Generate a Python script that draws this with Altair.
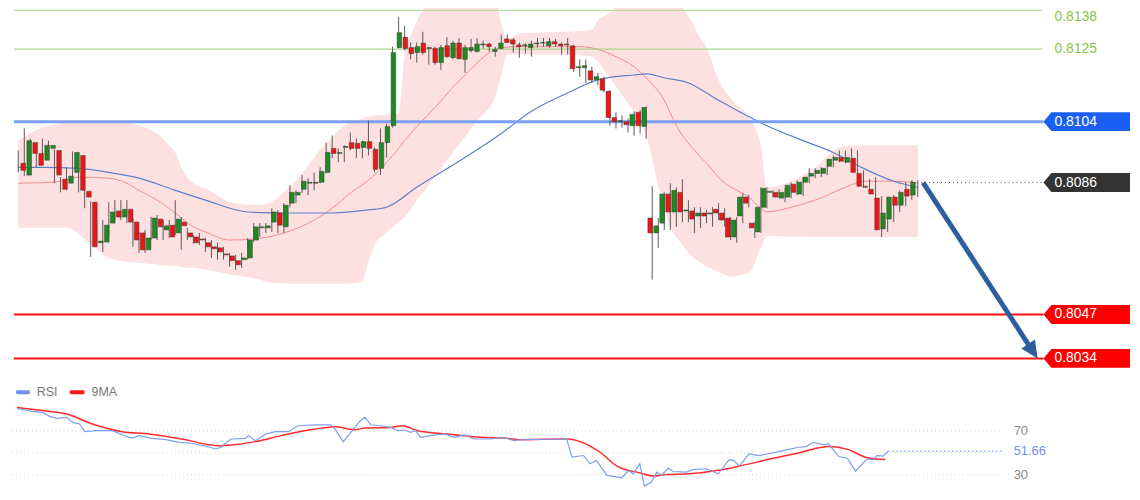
import altair as alt
import pandas as pd

# ---------------- candles (150 bars) ----------------
open_p = [0.80917, 0.80882, 0.80978, 0.80946, 0.80926, 0.80961, 0.80955, 0.80870, 0.80858, 0.80890,
          0.80940, 0.80834, 0.80802, 0.80682, 0.80684, 0.80740, 0.80776, 0.80758, 0.80781, 0.80743,
          0.80711, 0.80661, 0.80696, 0.80752, 0.80720, 0.80734, 0.80711, 0.80743, 0.80711, 0.80699,
          0.80693, 0.80682, 0.80670, 0.80667, 0.80649, 0.80643, 0.80629, 0.80632, 0.80637, 0.80690,
          0.80726, 0.80726, 0.80743, 0.80770, 0.80729, 0.80799, 0.80823, 0.80840, 0.80858, 0.80858,
          0.80861, 0.80890, 0.80961, 0.80946, 0.80964, 0.80978, 0.80976, 0.80964, 0.80981, 0.80958,
          0.80902, 0.80978, 0.81028, 0.81255, 0.81290, 0.81255, 0.81240, 0.81270, 0.81255, 0.81252,
          0.81211, 0.81261, 0.81225, 0.81270, 0.81220, 0.81246, 0.81243, 0.81264, 0.81267, 0.81243,
          0.81252, 0.81284, 0.81281, 0.81264, 0.81261, 0.81255, 0.81267, 0.81270, 0.81261, 0.81275,
          0.81267, 0.81267, 0.81261, 0.81196, 0.81196, 0.81187, 0.81161, 0.81164, 0.81128, 0.81052,
          0.81040, 0.81040, 0.81028, 0.81067, 0.81026, 0.80755, 0.80711, 0.80740, 0.80826, 0.80773,
          0.80831, 0.80776, 0.80776, 0.80761, 0.80770, 0.80767, 0.80781, 0.80770, 0.80755, 0.80699,
          0.80761, 0.80817, 0.80740, 0.80714, 0.80787, 0.80831, 0.80831, 0.80814, 0.80817, 0.80855,
          0.80826, 0.80861, 0.80879, 0.80887, 0.80887, 0.80908, 0.80926, 0.80934, 0.80920, 0.80932,
          0.80887, 0.80849, 0.80840, 0.80814, 0.80723, 0.80752, 0.80817, 0.80793, 0.80840, 0.80823]
high_p = [0.80955, 0.81020, 0.80990, 0.80955, 0.80990, 0.80984, 0.80958, 0.80876, 0.80905, 0.80952,
          0.80949, 0.80846, 0.80805, 0.80749, 0.80749, 0.80802, 0.80808, 0.80808, 0.80808, 0.80755,
          0.80714, 0.80720, 0.80758, 0.80764, 0.80749, 0.80749, 0.80808, 0.80758, 0.80726, 0.80705,
          0.80711, 0.80696, 0.80690, 0.80682, 0.80670, 0.80652, 0.80646, 0.80652, 0.80696, 0.80740,
          0.80740, 0.80740, 0.80784, 0.80779, 0.80799, 0.80852, 0.80837, 0.80882, 0.80873, 0.80890,
          0.80905, 0.80978, 0.80999, 0.80961, 0.80970, 0.81008, 0.80990, 0.80984, 0.81043, 0.80964,
          0.81020, 0.81034, 0.81258, 0.81358, 0.81328, 0.81272, 0.81272, 0.81308, 0.81258, 0.81258,
          0.81264, 0.81290, 0.81278, 0.81287, 0.81264, 0.81284, 0.81287, 0.81278, 0.81272, 0.81258,
          0.81299, 0.81299, 0.81287, 0.81272, 0.81270, 0.81278, 0.81287, 0.81287, 0.81287, 0.81284,
          0.81272, 0.81287, 0.81264, 0.81220, 0.81220, 0.81199, 0.81181, 0.81170, 0.81131, 0.81067,
          0.81058, 0.81049, 0.81070, 0.81073, 0.81084, 0.80849, 0.80755, 0.80831, 0.80858, 0.80846,
          0.80870, 0.80808, 0.80787, 0.80787, 0.80779, 0.80787, 0.80799, 0.80784, 0.80758, 0.80758,
          0.80829, 0.80823, 0.80743, 0.80846, 0.80846, 0.80837, 0.80840, 0.80843, 0.80861, 0.80867,
          0.80876, 0.80902, 0.80902, 0.80905, 0.80911, 0.80940, 0.80955, 0.80955, 0.80961, 0.80955,
          0.80896, 0.80870, 0.80876, 0.80820, 0.80773, 0.80823, 0.80837, 0.80861, 0.80867, 0.80867]
low_p = [0.80890, 0.80879, 0.80934, 0.80905, 0.80920, 0.80946, 0.80858, 0.80831, 0.80837, 0.80861,
         0.80831, 0.80784, 0.80640, 0.80679, 0.80655, 0.80699, 0.80749, 0.80749, 0.80740, 0.80670,
         0.80652, 0.80652, 0.80690, 0.80690, 0.80690, 0.80696, 0.80705, 0.80661, 0.80690, 0.80679,
         0.80676, 0.80655, 0.80637, 0.80632, 0.80632, 0.80611, 0.80602, 0.80608, 0.80632, 0.80684,
         0.80699, 0.80711, 0.80714, 0.80711, 0.80711, 0.80787, 0.80799, 0.80829, 0.80823, 0.80837,
         0.80858, 0.80887, 0.80932, 0.80920, 0.80920, 0.80955, 0.80932, 0.80932, 0.80940, 0.80890,
         0.80882, 0.80934, 0.81023, 0.81252, 0.81246, 0.81220, 0.81211, 0.81234, 0.81205, 0.81205,
         0.81190, 0.81225, 0.81220, 0.81220, 0.81181, 0.81240, 0.81240, 0.81252, 0.81243, 0.81228,
         0.81249, 0.81270, 0.81240, 0.81225, 0.81237, 0.81228, 0.81255, 0.81258, 0.81255, 0.81258,
         0.81234, 0.81234, 0.81184, 0.81170, 0.81152, 0.81152, 0.81146, 0.81125, 0.81028, 0.81020,
         0.81023, 0.81008, 0.80999, 0.81005, 0.80990, 0.80573, 0.80667, 0.80720, 0.80720, 0.80729,
         0.80743, 0.80743, 0.80711, 0.80726, 0.80740, 0.80729, 0.80749, 0.80729, 0.80690, 0.80682,
         0.80740, 0.80787, 0.80696, 0.80711, 0.80784, 0.80817, 0.80814, 0.80802, 0.80814, 0.80823,
         0.80820, 0.80858, 0.80873, 0.80876, 0.80882, 0.80905, 0.80920, 0.80917, 0.80905, 0.80887,
         0.80846, 0.80829, 0.80808, 0.80699, 0.80714, 0.80743, 0.80773, 0.80790, 0.80808, 0.80817]
close_p = [0.80896, 0.80984, 0.80946, 0.80911, 0.80970, 0.80970, 0.80882, 0.80840, 0.80879, 0.80949,
           0.80837, 0.80817, 0.80670, 0.80687, 0.80734, 0.80773, 0.80758, 0.80781, 0.80743, 0.80690,
           0.80661, 0.80696, 0.80755, 0.80729, 0.80732, 0.80699, 0.80752, 0.80732, 0.80699, 0.80682,
           0.80690, 0.80670, 0.80664, 0.80655, 0.80646, 0.80629, 0.80617, 0.80637, 0.80690, 0.80729,
           0.80729, 0.80732, 0.80773, 0.80734, 0.80793, 0.80831, 0.80831, 0.80864, 0.80861, 0.80861,
           0.80893, 0.80949, 0.80946, 0.80949, 0.80967, 0.80961, 0.80961, 0.80981, 0.80961, 0.80899,
           0.80978, 0.81026, 0.81240, 0.81305, 0.81252, 0.81237, 0.81258, 0.81240, 0.81252, 0.81211,
           0.81255, 0.81228, 0.81270, 0.81222, 0.81255, 0.81255, 0.81267, 0.81267, 0.81258, 0.81249,
           0.81270, 0.81272, 0.81267, 0.81258, 0.81264, 0.81267, 0.81270, 0.81272, 0.81275, 0.81267,
           0.81261, 0.81264, 0.81193, 0.81199, 0.81202, 0.81161, 0.81170, 0.81131, 0.81052, 0.81040,
           0.81043, 0.81031, 0.81061, 0.81028, 0.81081, 0.80711, 0.80732, 0.80826, 0.80773, 0.80837,
           0.80773, 0.80779, 0.80752, 0.80770, 0.80761, 0.80770, 0.80770, 0.80749, 0.80699, 0.80749,
           0.80817, 0.80799, 0.80726, 0.80787, 0.80843, 0.80834, 0.80817, 0.80831, 0.80852, 0.80831,
           0.80861, 0.80876, 0.80887, 0.80896, 0.80902, 0.80929, 0.80934, 0.80923, 0.80934, 0.80890,
           0.80849, 0.80846, 0.80826, 0.80720, 0.80770, 0.80817, 0.80793, 0.80831, 0.80820, 0.80861]

# ---------------- Bollinger band (sampled bars) ----------------
band_bar = [0, 4, 8, 12, 15, 18, 20, 23, 25, 26, 27, 28, 29, 31, 33, 35, 36, 40, 41, 46,
            51, 52, 53, 54, 57, 58, 59, 61, 63, 64, 65, 66, 67, 69, 71, 72, 76, 79, 80, 81,
            83, 90, 95, 96, 97, 98, 100, 103, 104, 106, 108, 110, 111, 113, 114, 116, 118, 121, 123, 124,
            132, 136, 139, 149]
band_upper = [0.80984, 0.81023, 0.81037, 0.81043, 0.81043, 0.81040, 0.81028, 0.81005, 0.80970, 0.80949,
              0.80905, 0.80876, 0.80858, 0.80843, 0.80823, 0.80802, 0.80799, 0.80793, 0.80796, 0.80867,
              0.80976, 0.80993, 0.81014, 0.81028, 0.81049, 0.81055, 0.81058, 0.81061, 0.81064, 0.81234,
              0.81293, 0.81343, 0.81381, 0.81425, 0.81455, 0.81470, 0.81470, 0.81425, 0.81337, 0.81284,
              0.81302, 0.81308, 0.81314, 0.81346, 0.81361, 0.81372, 0.81411, 0.81455, 0.81470, 0.81461,
              0.81440, 0.81390, 0.81361, 0.81287, 0.81255, 0.81161, 0.81108, 0.81052, 0.80970, 0.80846,
              0.80905, 0.80964, 0.80970, 0.80970]
band_lower = [0.80726, 0.80726, 0.80726, 0.80676, 0.80637, 0.80626, 0.80623, 0.80617, 0.80614, 0.80614,
              0.80611, 0.80608, 0.80608, 0.80602, 0.80596, 0.80588, 0.80585, 0.80573, 0.80567, 0.80561,
              0.80561, 0.80561, 0.80561, 0.80561, 0.80567, 0.80626, 0.80676, 0.80711, 0.80743, 0.80758,
              0.80779, 0.80808, 0.80829, 0.80876, 0.80926, 0.80949, 0.81043, 0.81111, 0.81175, 0.81234,
              0.81234, 0.81234, 0.81228, 0.81214, 0.81190, 0.81167, 0.81117, 0.81037, 0.80999, 0.80852,
              0.80729, 0.80676, 0.80652, 0.80623, 0.80611, 0.80596, 0.80582, 0.80593, 0.80667, 0.80702,
              0.80699, 0.80699, 0.80699, 0.80699]

# ---------------- moving averages ----------------
ma_red_bar = [0, 6, 10, 15, 18, 20, 23, 26, 29, 31, 35, 39, 44, 49, 52, 55, 58, 63, 64, 69,
              74, 80, 83, 93, 96, 99, 102, 104, 107, 109, 112, 114, 117, 119, 121, 123, 124, 128, 132, 137,
              140, 145, 149]
ma_red = [0.80858, 0.80861, 0.80876, 0.80873, 0.80858, 0.80837, 0.80808, 0.80770, 0.80729, 0.80714,
          0.80690, 0.80693, 0.80711, 0.80749, 0.80784, 0.80829, 0.80867, 0.80961, 0.80984, 0.81081,
          0.81175, 0.81255, 0.81258, 0.81258, 0.81249, 0.81228, 0.81199, 0.81167, 0.81102, 0.81028,
          0.80955, 0.80917, 0.80858, 0.80837, 0.80817, 0.80784, 0.80773, 0.80787, 0.80808, 0.80846,
          0.80864, 0.80864, 0.80858]
ma_blue_bar = [0, 4, 10, 15, 20, 26, 31, 38, 44, 52, 58, 61, 66, 74, 80, 85, 91, 96, 102, 104,
               107, 111, 116, 119, 124, 130, 135, 140, 145, 149]
ma_blue = [0.80905, 0.80905, 0.80902, 0.80890, 0.80873, 0.80837, 0.80808, 0.80773, 0.80770, 0.80770,
           0.80779, 0.80787, 0.80846, 0.80934, 0.81005, 0.81070, 0.81123, 0.81161, 0.81175, 0.81178,
           0.81167, 0.81152, 0.81102, 0.81073, 0.81028, 0.80984, 0.80949, 0.80902, 0.80864, 0.80846]

# ---------------- levels ----------------
green_levels = [0.8138, 0.8125]
resistance_level = [0.8104]
current_price = [0.8086]
support_levels = [0.8047, 0.8034]
box_levels = [0.8104, 0.8086, 0.8047, 0.8034]
box_colors = ["#1a5ff2", "#333333", "#ff0000", "#ff0000"]

# ---------------- RSI pane ----------------
rsi_pos = [0, 2.7, 4.4, 5.6, 6.8, 8.5, 9.5, 10.7, 11.6, 13.6, 16.3, 18.7, 19.7, 20.9, 23.1, 25.5, 27.7, 29.9,
           32.3, 34.0, 34.9, 36.2, 36.7, 39.1, 39.6, 40.8, 42.5, 44.2, 46.4, 48.1, 51.0, 53.7, 54.4, 55.8,
           57.1, 58.7, 59.5, 60.5, 62.2, 63.9, 65.1, 66.3, 67.3, 68.2, 69.0, 70.7, 73.1, 74.8, 76.5, 78.2,
           81.0, 83.3, 85.0, 86.0, 94.0, 94.9, 96.9, 98.0, 99.1, 100.9, 103.4, 104.6, 105.4, 106.5, 107.3,
           108.5, 109.4, 110.2, 111.4, 112.2, 114.5, 115.6, 117.9, 119.9, 121.8, 122.6, 123.5, 125.2, 126.9,
           129.3, 131.0, 133.7, 134.9, 136.2, 137.8, 138.8, 140.5, 142.0, 143.4, 145.4, 146.3, 147.1, 148.1, 149.0]
rsi_val = [90.6, 87.9, 87.0, 83.4, 81.5, 82.5, 77.9, 76.4, 69.4, 70.3, 70.3, 65.2, 63.6, 65.8, 63.3, 62.1, 59.7, 58.8,
           56.1, 53.6, 55.2, 61.2, 62.7, 63.3, 65.8, 61.2, 67.3, 69.4, 69.4, 74.8, 75.7, 75.7, 71.8, 60.3,
           68.8, 79.4, 82.5, 75.7, 74.8, 73.3, 70.3, 70.9, 68.8, 70.3, 64.2, 65.8, 67.3, 64.2, 66.4, 62.7,
           62.7, 64.2, 61.2, 62.0, 62.7, 46.1, 47.6, 40.0, 43.0, 29.4, 27.3, 33.9, 30.9, 40.0, 19.7,
           23.4, 32.4, 29.4, 36.1, 33.0, 32.4, 34.8, 35.5, 30.9, 43.9, 43.0, 37.9, 49.1, 47.6,
           50.0, 52.1, 55.2, 55.8, 59.7, 57.6, 58.2, 46.7, 45.1, 33.3, 44.5, 43.6, 47.6, 47.0, 51.66]
ma9_pos = [0, 5.6, 8.5, 12.9, 18.0, 22.6, 28.2, 34.5, 36.7, 40.8, 45.2, 51.0, 54.4, 57.8, 59.5, 63.9, 66.0,
           68.5, 73.6, 79.3, 83.3, 86.0, 94.0, 99.7, 102.6, 106.5, 108.8, 111.1, 115.0, 119.6, 123.5, 129.3,
           133.7, 138.8, 142.2, 145.1, 148.5]
ma9_val = [91.5, 87.9, 85.5, 76.4, 69.4, 67.3, 62.7, 56.6, 57.3, 60.3, 65.8, 71.8, 73.9, 71.2, 72.7, 73.3, 74.8,
           70.3, 67.3, 64.2, 63.6, 62.1, 62.7, 50.6, 37.9, 31.8, 28.8, 30.3, 30.9, 33.9, 37.9, 45.1,
           50.0, 55.8, 53.0, 46.1, 43.9]
rsi_grid = [70, 50, 30]
rsi_ticks = [70, 30]
legend_names = ["RSI", "9MA"]

FONT = "Liberation Sans"

PRICE = alt.Scale(domain=[0.8034, 0.8104, 0.8125, 0.8138], range=[351, 113, 40, 1], nice=False, zero=False)
BAR = alt.Scale(domain=[0, 149], range=[10.3, 914.7], nice=False, zero=False)
RX = alt.Scale(domain=[0, 149], range=[9, 885], nice=False, zero=False)
RY = alt.Scale(domain=[30, 70], range=[468, 424], nice=False, zero=False)


def bx(f):
    return alt.X(f, type="quantitative", scale=BAR, axis=None)


def py(f):
    return alt.Y(f, type="quantitative", scale=PRICE, axis=None)


candles = pd.DataFrame({"bar": list(range(len(open_p))), "open": open_p, "high": high_p,
                        "low": low_p, "close": close_p})
candles["dir"] = ["up" if c >= o else "down" for o, c in zip(open_p, close_p)]

band_df = pd.DataFrame({"bar": band_bar, "upper": band_upper, "lower": band_lower})
red_df = pd.DataFrame({"bar": ma_red_bar, "v": ma_red})
blue_df = pd.DataFrame({"bar": ma_blue_bar, "v": ma_blue})

band = alt.Chart(band_df).mark_area(color="#fde1e1", interpolate="monotone", opacity=1).encode(
    x=bx("bar"), y=py("upper"), y2="lower")
red_ma = alt.Chart(red_df).mark_line(color="#f08a8a", strokeWidth=1, interpolate="monotone").encode(
    x=bx("bar"), y=py("v"))
blue_ma = alt.Chart(blue_df).mark_line(color="#5b80c9", strokeWidth=1.2, interpolate="monotone").encode(
    x=bx("bar"), y=py("v"))

green_lines = alt.Chart(pd.DataFrame({"price": green_levels})).mark_rule(
    color="#a6d68c", strokeWidth=1.2).encode(x=alt.value(6), x2=alt.value(1040), y=py("price"))
blue_line = alt.Chart(pd.DataFrame({"price": resistance_level})).mark_rule(
    color="#7c9ff2", strokeWidth=3).encode(x=alt.value(6), x2=alt.value(1041), y=py("price"))
red_lines = alt.Chart(pd.DataFrame({"price": support_levels})).mark_rule(
    color="#ff1010", strokeWidth=2).encode(x=alt.value(6), x2=alt.value(1041), y=py("price"))
cur_line = alt.Chart(pd.DataFrame({"price": current_price})).mark_rule(
    color="#555555", strokeWidth=1, strokeDash=[1, 3]).encode(x=alt.value(918), x2=alt.value(1040), y=py("price"))

wicks = alt.Chart(candles).mark_rule(color="#5a5a5a", strokeWidth=1).encode(
    x=bx("bar"), y=py("high"), y2="low")
bodies = alt.Chart(candles).mark_bar(size=4.6, stroke="#3a3a3a", strokeWidth=0.5, opacity=1).encode(
    x=bx("bar"), y=py("open"), y2="close",
    color=alt.Color("dir:N", scale=alt.Scale(domain=["up", "down"], range=["#1f8a1f", "#f01515"]), legend=None))

# labels on the right
green_df = pd.DataFrame({"price": green_levels})
green_top = alt.Chart(green_df.iloc[[0]]).mark_text(
    align="left", baseline="middle", font=FONT, fontSize=14, color="#8cc34b", dy=7).encode(
    x=alt.value(1052), y=py("price"), text=alt.Text("price:Q", format=".4f"))
green_mid = alt.Chart(green_df.iloc[[1]]).mark_text(
    align="left", baseline="middle", font=FONT, fontSize=14, color="#8cc34b").encode(
    x=alt.value(1052), y=py("price"), text=alt.Text("price:Q", format=".4f"))

box_df = pd.DataFrame({"price": box_levels, "fill": box_colors})
BOX_PATH = "M-1,0 L-0.816,-0.218 L1,-0.218 L1,0.218 L-0.816,0.218 Z"
boxes = alt.Chart(box_df).mark_point(shape=BOX_PATH, size=7569, filled=True, opacity=1, strokeWidth=0).encode(
    x=alt.value(1084.5), y=py("price"), color=alt.Color("fill:N", scale=None))
box_text = alt.Chart(box_df).mark_text(
    align="left", baseline="middle", font=FONT, fontSize=14, color="white").encode(
    x=alt.value(1052), y=py("price"), text=alt.Text("price:Q", format=".4f"))

# forecast arrow from current price to target
arrow_df = pd.DataFrame({"start": current_price, "target": [support_levels[1]]})
arrow_line = alt.Chart(arrow_df).mark_rule(color="#2f5e9e", strokeWidth=5, y2Offset=-8.4).encode(
    x=alt.value(920), x2=alt.value(1029.5), y=py("start"), y2="target")
arrow_head = alt.Chart(arrow_df).mark_point(
    shape="M0,1 L-0.8,-0.7 L0.8,-0.7 Z", size=420, angle=326.8, filled=True, opacity=1,
    color="#2f5e9e", strokeWidth=0, yOffset=-8.4).encode(x=alt.value(1029.5), y=py("target"))

# RSI pane
rx = alt.X("pos:Q", scale=RX, axis=None)
rsi_df = pd.DataFrame({"pos": rsi_pos, "v": rsi_val})
ma9_df = pd.DataFrame({"pos": ma9_pos, "v": ma9_val})
grid = alt.Chart(pd.DataFrame({"v": rsi_grid})).mark_rule(
    color="#cfcfcf", strokeWidth=1, strokeDash=[1, 3]).encode(
    x=alt.value(4), x2=alt.value(999), y=alt.Y("v:Q", scale=RY, axis=None))
rsi_line = alt.Chart(rsi_df).mark_line(color="#7d9df0", strokeWidth=1.2).encode(
    x=rx, y=alt.Y("v:Q", scale=RY, axis=None))
ma9_line = alt.Chart(ma9_df).mark_line(color="#ff2b2b", strokeWidth=1.5, interpolate="monotone").encode(
    x=rx, y=alt.Y("v:Q", scale=RY, axis=None))
last_df = rsi_df.iloc[[-1]]
last_dash = alt.Chart(last_df).mark_rule(color="#7d9df0", strokeWidth=1, strokeDash=[2, 2]).encode(
    x=rx, x2=alt.value(999), y=alt.Y("v:Q", scale=RY, axis=None))
last_text = alt.Chart(last_df).mark_text(
    align="left", baseline="middle", font=FONT, fontSize=13, color="#6f90ee").encode(
    x=alt.value(1011), y=alt.Y("v:Q", scale=RY, axis=None), text=alt.Text("v:Q", format=".2f"))
tick_text = alt.Chart(pd.DataFrame({"v": rsi_ticks})).mark_text(
    align="left", baseline="middle", font=FONT, fontSize=13, color="#8a8a8a").encode(
    x=alt.value(1011), y=alt.Y("v:Q", scale=RY, axis=None), text=alt.Text("v:Q", format="d"))

one = pd.DataFrame({"name": [legend_names[0]]})
two = pd.DataFrame({"name": [legend_names[1]]})
leg1_sw = alt.Chart(one).mark_rect(color="#6d8ff0", cornerRadius=1.5).encode(
    x=alt.value(8), x2=alt.value(22), y=alt.value(383), y2=alt.value(387))
leg1_tx = alt.Chart(one).mark_text(align="left", baseline="middle", font=FONT, fontSize=12.5,
                                   color="#777777").encode(x=alt.value(29), y=alt.value(385), text="name:N")
leg2_sw = alt.Chart(two).mark_rect(color="#ff1a1a", cornerRadius=1.5).encode(
    x=alt.value(62), x2=alt.value(77), y=alt.value(383), y2=alt.value(387))
leg2_tx = alt.Chart(two).mark_text(align="left", baseline="middle", font=FONT, fontSize=12.5,
                                   color="#777777").encode(x=alt.value(84), y=alt.value(385), text="name:N")

chart = alt.layer(
    band, red_ma, blue_ma, green_lines, blue_line, red_lines, cur_line,
    wicks, bodies, green_top, green_mid, boxes, box_text, arrow_line, arrow_head,
    grid, ma9_line, rsi_line, last_dash, last_text, tick_text,
    leg1_sw, leg1_tx, leg2_sw, leg2_tx,
).resolve_scale(x="independent", y="independent", color="independent").properties(
    width=1130, height=480, autosize=alt.AutoSizeParams(type="none"), padding=0,
    background="#ffffff",
).configure_view(stroke=None)

chart.save("out.html", embed_options={"renderer": "svg", "actions": False})
